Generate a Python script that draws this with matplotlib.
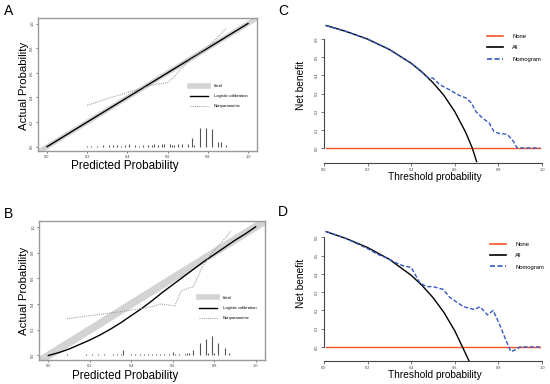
import matplotlib
matplotlib.use("Agg")
import matplotlib.pyplot as plt
from matplotlib.lines import Line2D

plt.rcParams["font.family"] = ["Liberation Sans", "DejaVu Sans"]

W, H = 550, 384

# ---- panel A: calibration (training) ----
a_logit_x = [0.0, 1.0]
a_logit_y = [0.0, 1.0]
a_np_x = [0.20, 0.30, 0.40, 0.45, 0.50, 0.55, 0.58, 0.60, 0.63, 0.66, 0.70, 0.75, 0.80, 0.85, 0.89]
a_np_y = [0.335, 0.39, 0.44, 0.465, 0.49, 0.51, 0.515, 0.52, 0.56, 0.62, 0.69, 0.75, 0.81, 0.89, 0.96]
a_hist_x = [0.20, 0.22, 0.25, 0.28, 0.31, 0.33, 0.35, 0.37, 0.39, 0.41, 0.44, 0.46, 0.48, 0.50,
            0.52, 0.53, 0.55, 0.57, 0.58, 0.61, 0.62, 0.63, 0.65, 0.67, 0.70, 0.72, 0.73, 0.76,
            0.79, 0.82, 0.85, 0.865, 0.89]
a_hist_h = [0.008, 0.008, 0.006, 0.01, 0.012, 0.01, 0.01, 0.008, 0.01, 0.02, 0.01, 0.008, 0.012, 0.014,
            0.012, 0.02, 0.01, 0.02, 0.02, 0.025, 0.015, 0.015, 0.02, 0.02, 0.02, 0.07, 0.01, 0.155,
            0.155, 0.145, 0.04, 0.04, 0.01]

# ---- panel B: calibration (validation) ----
b_logit_x = [0.0, 0.05, 0.10, 0.15, 0.20, 0.25, 0.30, 0.35, 0.40, 0.45, 0.50,
             0.55, 0.60, 0.65, 0.70, 0.75, 0.80, 0.85, 0.90, 0.95, 1.0]
b_logit_y = [0.0, 0.022, 0.05, 0.085, 0.12, 0.16, 0.205, 0.255, 0.31, 0.365, 0.425,
             0.49, 0.55, 0.61, 0.67, 0.73, 0.785, 0.84, 0.895, 0.945, 1.0]
b_np_x = [0.09, 0.20, 0.30, 0.41, 0.45, 0.50, 0.54, 0.57, 0.61, 0.64, 0.67, 0.70, 0.74, 0.78, 0.82, 0.88]
b_np_y = [0.285, 0.31, 0.33, 0.355, 0.365, 0.38, 0.40, 0.395, 0.385, 0.50, 0.52, 0.535, 0.68, 0.78, 0.85, 0.965]
b_hist_x = [0.09, 0.18, 0.21, 0.24, 0.27, 0.31, 0.33, 0.35, 0.36, 0.40, 0.42, 0.44, 0.46, 0.48,
            0.50, 0.52, 0.54, 0.56, 0.58, 0.60, 0.61, 0.63, 0.66, 0.67, 0.68, 0.70, 0.73, 0.76,
            0.77, 0.79, 0.80, 0.82, 0.85, 0.87]
b_hist_h = [0.01, 0.01, 0.01, 0.01, 0.01, 0.01, 0.01, 0.015, 0.04, 0.01, 0.012, 0.01, 0.01, 0.015,
            0.01, 0.015, 0.01, 0.015, 0.015, 0.03, 0.01, 0.015, 0.015, 0.02, 0.02, 0.045, 0.10, 0.13,
            0.02, 0.15, 0.02, 0.10, 0.06, 0.02]

# ---- panel C: decision curve (training) ----
c_all_x = [0.01, 0.10, 0.20, 0.30, 0.40, 0.45, 0.50, 0.55, 0.60, 0.65, 0.68, 0.70]
c_all_y = [0.675, 0.643, 0.60, 0.543, 0.467, 0.418, 0.36, 0.29, 0.20, 0.086, 0.0, -0.075]
c_nom_x = [0.01, 0.10, 0.20, 0.30, 0.40, 0.45, 0.477, 0.50, 0.53, 0.576, 0.62, 0.652, 0.675,
           0.697, 0.727, 0.758, 0.78, 0.803, 0.84, 0.864, 0.886, 0.99]
c_nom_y = [0.675, 0.643, 0.60, 0.543, 0.467, 0.418, 0.388, 0.385, 0.35, 0.32, 0.29, 0.275, 0.25,
           0.20, 0.165, 0.137, 0.09, 0.08, 0.075, 0.045, 0.0, 0.0]

# ---- panel D: decision curve (validation) ----
d_all_x = [0.01, 0.10, 0.20, 0.30, 0.40, 0.45, 0.50, 0.55, 0.60, 0.635, 0.665]
d_all_y = [0.631, 0.594, 0.544, 0.479, 0.392, 0.336, 0.27, 0.189, 0.088, 0.0, -0.076]
d_nom_x = [0.01, 0.10, 0.196, 0.22, 0.24, 0.27, 0.30, 0.33, 0.36, 0.40, 0.44, 0.47, 0.50, 0.546,
           0.578, 0.64, 0.69, 0.716, 0.75, 0.776, 0.81, 0.83, 0.857, 0.87, 0.90, 0.99]
d_nom_y = [0.631, 0.594, 0.54, 0.525, 0.51, 0.495, 0.48, 0.46, 0.445, 0.435, 0.35, 0.33, 0.33, 0.315,
           0.27, 0.22, 0.205, 0.22, 0.175, 0.20, 0.11, 0.05, -0.025, -0.02, 0.0, 0.0]

none_x = [0.01, 0.99]
none_y = [0.0, 0.0]

ticks01 = [0.0, 0.2, 0.4, 0.6, 0.8, 1.0]
tick_lbl01 = ["0.0", "0.2", "0.4", "0.6", "0.8", "1.0"]
nb_ticks = [0.0, 0.1, 0.2, 0.3, 0.4, 0.5, 0.6]
nb_lbl = ["0.0", "0.1", "0.2", "0.3", "0.4", "0.5", "0.6"]

RED = "#f0562a"
BLUE = "#3558c0"
GRAY = "#d3d3d3"


def px_axes(fig, left, right, top, bottom):
    return fig.add_axes([left / W, 1 - bottom / H, (right - left) / W, (bottom - top) / H])


def calib_panel(ax, lx, ly, nx, ny, hx, hh, ideal_lw, leg_anchor):
    ax.plot([-0.1, 1.1], [-0.1, 1.1], color=GRAY, lw=ideal_lw, solid_capstyle="butt")
    ax.plot(lx, ly, color="black", lw=1.0)
    ax.plot(nx, ny, color="#8c8c8c", lw=0.7, ls=(0, (1, 1.2)))
    ax.vlines(hx, 0, hh, color="#555555", lw=0.8)
    ax.set_xlim(-0.045, 1.045)
    ax.set_ylim(-0.035, 1.045)
    ax.set_xticks(ticks01)
    ax.set_xticklabels(tick_lbl01)
    ax.set_yticks(ticks01)
    ax.set_yticklabels(tick_lbl01, rotation=90, va="center")
    ax.tick_params(labelsize=2.8, length=1.5, width=0.5, pad=1.2, colors="#444444")
    for s in ax.spines.values():
        s.set_color("#999999")
        s.set_linewidth(1.0)
    handles = [Line2D([], [], color=GRAY, lw=4),
               Line2D([], [], color="black", lw=1.0),
               Line2D([], [], color="#8c8c8c", lw=0.7, ls=(0, (1, 1.2)))]
    ax.legend(handles, ["Ideal", "Logistic calibration", "Nonparametric"],
              loc="upper left", bbox_to_anchor=leg_anchor, frameon=False,
              fontsize=3, handlelength=4.3, labelspacing=1.45, handletextpad=1.4,
              borderpad=0, borderaxespad=0)


def dca_panel(ax, ax_x, ax_y, nx, ny, ylo, leg_anchor):
    ax.plot(none_x, none_y, color=RED, lw=1.0)
    ax.plot(ax_x, ax_y, color="black", lw=1.0)
    ax.plot(nx, ny, color=BLUE, lw=1.0, ls=(0, (3, 1.5)))
    ax.set_xlim(0, 1)
    ax.set_ylim(ylo, 0.70)
    ax.spines["top"].set_visible(False)
    ax.spines["right"].set_visible(False)
    ax.spines["left"].set_bounds(0, 0.6)
    ax.spines["bottom"].set_bounds(0, 1)
    for s in ("left", "bottom"):
        ax.spines[s].set_color("#444444")
        ax.spines[s].set_linewidth(0.8)
    ax.set_xticks(ticks01)
    ax.set_xticklabels(tick_lbl01)
    ax.set_yticks(nb_ticks)
    ax.set_yticklabels(nb_lbl, rotation=90, va="center")
    ax.tick_params(labelsize=2.8, length=2, width=0.5, pad=1.5, colors="#444444")
    handles = [Line2D([], [], color=RED, lw=1.2),
               Line2D([], [], color="black", lw=1.2),
               Line2D([], [], color=BLUE, lw=1.2, ls=(0, (3, 1.5)))]
    ax.legend(handles, ["None", "All", "Nomogram"], loc="upper left",
              bbox_to_anchor=leg_anchor, frameon=False, fontsize=4.2,
              handlelength=2.8, labelspacing=1.05, handletextpad=1.5,
              borderpad=0, borderaxespad=0)


fig = plt.figure(figsize=(W / 100, H / 100), dpi=100)

axA = px_axes(fig, 38, 257, 18, 151)
calib_panel(axA, a_logit_x, a_logit_y, a_np_x, a_np_y, a_hist_x, a_hist_h, 3.5, (0.694, 0.504))
axB = px_axes(fig, 39, 265, 221, 360)
calib_panel(axB, b_logit_x, b_logit_y, b_np_x, b_np_y, b_hist_x, b_hist_h, 5.5, (0.708, 0.461))

axC = px_axes(fig, 324, 542, 21, 163)
dca_panel(axC, c_all_x, c_all_y, c_nom_x, c_nom_y, -0.083, (0.748, 0.908))
axD = px_axes(fig, 324, 542, 219, 361)
dca_panel(axD, d_all_x, d_all_y, d_nom_x, d_nom_y, -0.077, (0.762, 0.838))

# axis titles
fig.text(125 / W, 1 - 166 / H, "Predicted Probability", ha="center", va="center", fontsize=8.5)
fig.text(24 / W, 1 - 86 / H, "Actual Probability", ha="center", va="center", fontsize=8.2, rotation=90)
fig.text(125 / W, 1 - 376 / H, "Predicted Probability", ha="center", va="center", fontsize=8.3)
fig.text(24 / W, 1 - 291 / H, "Actual Probability", ha="center", va="center", fontsize=8.2, rotation=90)
fig.text(435 / W, 1 - 177 / H, "Threshold probability", ha="center", va="center", fontsize=7.3)
fig.text(301 / W, 1 - 85 / H, "Net benefit", ha="center", va="center", fontsize=7.3, rotation=90)
fig.text(435 / W, 1 - 375 / H, "Threshold probability", ha="center", va="center", fontsize=7.3)
fig.text(301 / W, 1 - 283 / H, "Net benefit", ha="center", va="center", fontsize=7.3, rotation=90)

# panel letters
for lbl, x, y in [("A", 4, 11), ("B", 4, 214), ("C", 278, 11), ("D", 278, 212)]:
    fig.text(x / W, 1 - y / H, lbl, ha="left", va="center", fontsize=10)

fig.savefig("out.png", dpi=100)
